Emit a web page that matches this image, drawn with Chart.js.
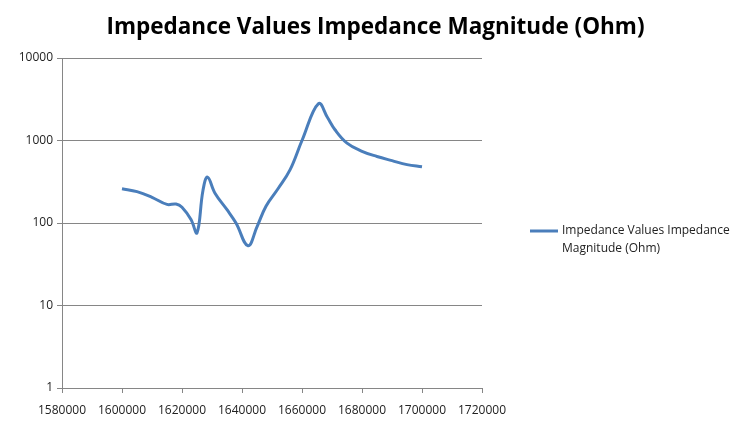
<!DOCTYPE html>
<html>
<head>
<meta charset="utf-8">
<script src="https://cdn.jsdelivr.net/npm/chart.js@4/dist/chart.umd.min.js"></script>
<style>
  html, body { margin: 0; padding: 0; background: #fff; }
  #wrap { width: 751px; height: 433px; }
</style>
</head>
<body>
<div id="wrap"><canvas id="chart" width="751" height="433"></canvas></div>
<script>
const seriesLabel = 'Impedance Values Impedance Magnitude (Ohm)';
const frequencies = [
  1600000, 1605000, 1610000, 1615000, 1618000, 1620000, 1623000, 1625000,
  1627000, 1628500, 1631000, 1635000, 1638000, 1642000, 1645000, 1648000,
  1652000, 1656000, 1660000, 1665500, 1668500, 1671000, 1675000,
  1680000, 1685000, 1690000, 1695000, 1700000
];
const impedance = [
  260, 240, 205, 168, 170, 155, 110, 76,
  250, 360, 230, 145, 100, 53, 90, 160,
  260, 440, 1000, 2800, 1900, 1350, 930,
  740, 640, 570, 510, 480
];
const yTicks = [1, 10, 100, 1000, 10000];

const points = frequencies.map((f, i) => ({ x: f, y: impedance[i] }));

// title centred on the whole canvas and a wrapped legend at the right
const decorations = {
  id: 'decorations',
  afterDraw(chart) {
    const ctx = chart.ctx;
    const area = chart.chartArea;
    const ds = chart.data.datasets[0];
    ctx.save();
    ctx.fillStyle = '#000';
    ctx.font = 'bold 22.5px "Open Sans"';
    ctx.textAlign = 'center';
    ctx.textBaseline = 'middle';
    ctx.fillText(seriesLabel, chart.width / 2, 28);

    const x = area.right + 48;
    const y = (area.top + area.bottom) / 2 + 8;
    ctx.strokeStyle = ds.borderColor;
    ctx.lineWidth = 3;
    ctx.beginPath();
    ctx.moveTo(x, y);
    ctx.lineTo(x + 28, y);
    ctx.stroke();
    ctx.fillStyle = '#222';
    ctx.font = '12px "Open Sans"';
    ctx.textAlign = 'left';
    ctx.fillText('Impedance Values Impedance', x + 32, y);
    ctx.fillText('Magnitude (Ohm)', x + 32, y + 18);
    ctx.restore();
  }
};

new Chart(document.getElementById('chart'), {
  type: 'scatter',
  data: {
    datasets: [{
      label: seriesLabel,
      data: points,
      showLine: true,
      borderColor: '#4a7ebb',
      borderWidth: 3,
      pointRadius: 0,
      tension: 0.4,
      fill: false
    }]
  },
  options: {
    responsive: false,
    animation: false,
    layout: { padding: { left: 0, right: 269, top: 58, bottom: 0 } },
    plugins: {
      legend: { display: false },
      tooltip: { enabled: false },
      title: { display: false }
    },
    scales: {
      x: {
        type: 'linear',
        min: 1580000,
        max: 1720000,
        ticks: {
          stepSize: 20000,
          color: '#222',
          font: { family: 'Open Sans', size: 12 },
          maxRotation: 0,
          padding: 10,
          callback: v => String(v)
        },
        grid: { drawOnChartArea: false, color: '#868686', tickLength: 5 },
        border: { color: '#868686' },
        afterFit(scale) { scale.height = 45; }
      },
      y: {
        type: 'logarithmic',
        min: 1,
        max: 10000,
        afterBuildTicks(scale) {
          scale.ticks = yTicks.map(v => ({ value: v }));
        },
        ticks: {
          color: '#222',
          font: { family: 'Open Sans', size: 12 },
          padding: 4,
          callback: v => String(v)
        },
        grid: { color: '#868686', tickLength: 5 },
        border: { color: '#868686' },
        afterFit(scale) { scale.width = 62; }
      }
    }
  },
  plugins: [decorations]
});
</script>
</body>
</html>
